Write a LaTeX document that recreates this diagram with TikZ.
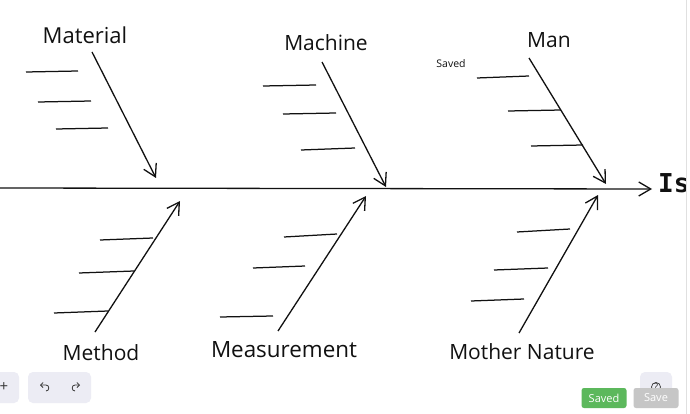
\documentclass[tikz,border=0pt]{standalone}
\usepackage{fontspec}
\setmainfont{Open Sans}
\newfontfamily\monoish{DejaVu Sans Mono}
\usetikzlibrary{arrows.meta}
\definecolor{inkc}{HTML}{111111}
\definecolor{panelc}{HTML}{ECECF4}
\definecolor{greenc}{HTML}{5CB85C}
\definecolor{grayc}{HTML}{C6C6C6}
\tikzset{
  x=1pt,y=-1pt,
  spine/.style={draw=inkc,line width=1.3pt,-{Straight Barb[length=12pt,width=14pt,line width=1.3pt]}},
  rib/.style={draw=inkc,line width=1.25pt},
  lab/.style={text=inkc,font=\fontsize{21}{23}\selectfont,inner sep=0pt},
  panel/.style={fill=panelc,rounded corners=5pt,draw=none},
  btn/.style={rounded corners=2.5pt,text=white,font=\fontsize{11}{13}\selectfont,minimum width=45pt,minimum height=20pt,inner sep=0pt},
  icon/.style={text=inkc!85,font=\fontsize{10}{12}\selectfont,inner sep=0pt}
}
\begin{document}
\begin{tikzpicture}
\useasboundingbox (0,0) rectangle (690,414);
\fill[white] (0,0) rectangle (690,414);

% spine
\coordinate (tailS) at (-2,188);
\coordinate (headS) at (652,189);
\draw[spine] (tailS) -- (headS);
\node[text=inkc,inner sep=0pt,anchor=west,font=\monoish\bfseries\fontsize{26}{28}\selectfont] (issue) at (658,183) {Is};
\fill[white] (686,0) rectangle (690,414);
\draw[draw=black!12,line width=0.6pt] (686,0) -- (686,414);

% top labels
\node[lab,font=\fontsize{22}{24}\selectfont] (material) at (85,35) {Material};
\node[lab] (machine) at (326,43) {Machine};
\node[lab] (man) at (549,40) {Man};
\node[text=inkc,font=\fontsize{10.5}{12}\selectfont,inner sep=0pt] (saved) at (451,64) {Saved};

% top bones
\coordinate (a1) at (92,52); \coordinate (a2) at (156,178);
\coordinate (b1) at (322,62); \coordinate (b2) at (386,187);
\coordinate (c1) at (529,58); \coordinate (c2) at (606,184);
\draw[spine] (a1) -- (a2);
\draw[spine] (b1) -- (b2);
\draw[spine] (c1) -- (c2);

% top ribs
\coordinate (r1a) at (26,72); \coordinate (r1b) at (78,71);
\coordinate (r2a) at (38,102); \coordinate (r2b) at (91,101);
\coordinate (r3a) at (56,129); \coordinate (r3b) at (108,128);
\coordinate (r4a) at (263,86); \coordinate (r4b) at (316,85);
\coordinate (r5a) at (283,114); \coordinate (r5b) at (336,113);
\coordinate (r6a) at (301,150); \coordinate (r6b) at (355,148);
\coordinate (r7a) at (477,78); \coordinate (r7b) at (529,76);
\coordinate (r8a) at (508,111); \coordinate (r8b) at (561,110);
\coordinate (r9a) at (531,146); \coordinate (r9b) at (583,145);
\foreach \i in {1,...,9} \draw[rib] (r\i a) -- (r\i b);

% bottom labels
\node[lab] (method) at (101,353) {Method};
\node[lab,font=\fontsize{22.4}{24}\selectfont] (measurement) at (284,350) {Measurement};
\node[lab] (nature) at (522,352) {Mother Nature};

% bottom bones
\coordinate (d1) at (95,332); \coordinate (d2) at (180,201);
\coordinate (e1) at (278,331); \coordinate (e2) at (366,196);
\coordinate (f1) at (519,333); \coordinate (f2) at (598,195);
\draw[spine] (d1) -- (d2);
\draw[spine] (e1) -- (e2);
\draw[spine] (f1) -- (f2);

% bottom ribs
\coordinate (s1a) at (100,240); \coordinate (s1b) at (153,238);
\coordinate (s2a) at (79,273); \coordinate (s2b) at (134,271);
\coordinate (s3a) at (54,313); \coordinate (s3b) at (108,311);
\coordinate (s4a) at (284,237); \coordinate (s4b) at (337,234);
\coordinate (s5a) at (253,268); \coordinate (s5b) at (305,266);
\coordinate (s6a) at (220,317); \coordinate (s6b) at (273,316);
\coordinate (s7a) at (517,232); \coordinate (s7b) at (570,229);
\coordinate (s8a) at (494,270); \coordinate (s8b) at (548,268);
\coordinate (s9a) at (471,301); \coordinate (s9b) at (524,299);
\foreach \i in {1,...,9} \draw[rib] (s\i a) -- (s\i b);

% interface
\fill[panel] (-10,372) rectangle (19,403);
\fill[panel] (28,372) rectangle (91,403);
\fill[panel] (640,372) rectangle (672,403);
\node[icon,font=\fontsize{15}{15}\selectfont] (plus) at (4,387) {+};
\node[font=\fontsize{10}{12}\selectfont,text=inkc!85,inner sep=0pt] (help) at (656,387) {?};
\draw[draw=inkc!85,line width=0.7pt] (help) circle (4.5pt);
\draw[draw=inkc!85,line width=0.8pt,-{Straight Barb[length=2.5pt,width=5pt]}] (46,391) to[out=0,in=0,looseness=1.6] (46,385) -- (40,385);
\draw[draw=inkc!85,line width=0.8pt,-{Straight Barb[length=2.5pt,width=5pt]}] (75,391) to[out=180,in=180,looseness=1.6] (75,385) -- (80,385);
\node[btn,fill=greenc] (savedbtn) at (604,398) {Saved};
\node[btn,fill=grayc] (savebtn) at (656,398) {Save};
\end{tikzpicture}
\end{document}
